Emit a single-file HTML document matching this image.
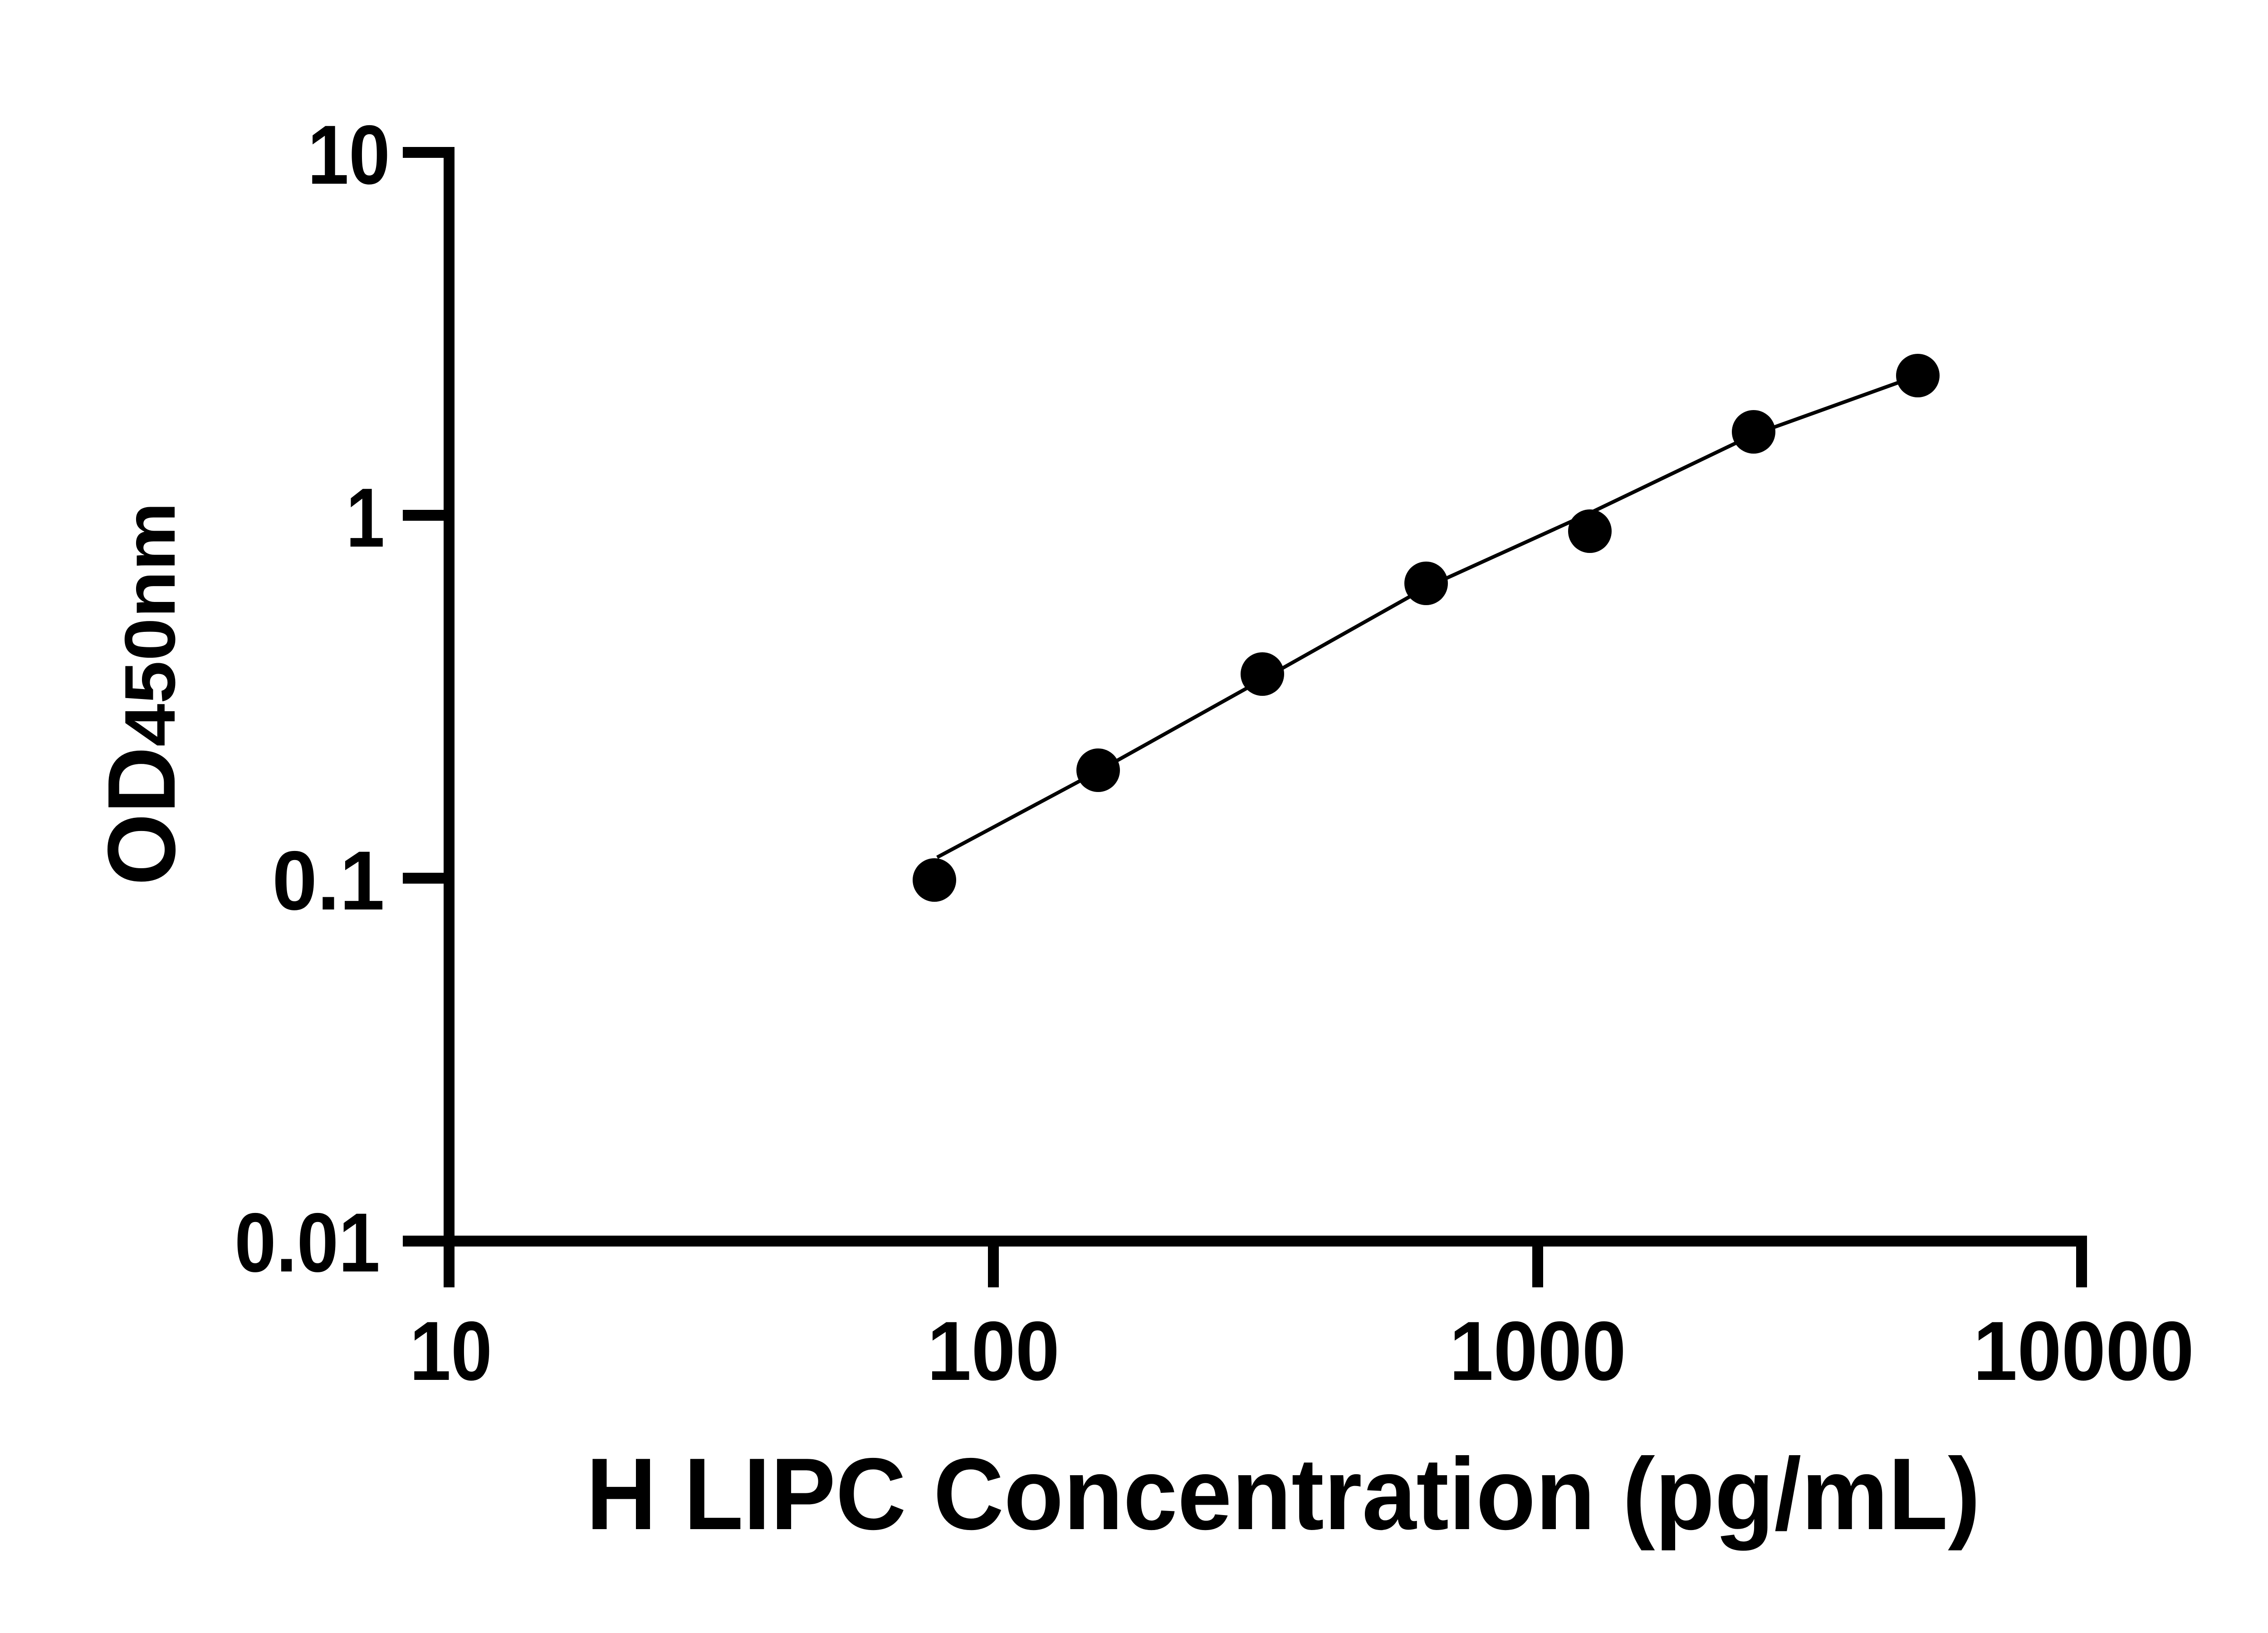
<!DOCTYPE html>
<html><head><meta charset="utf-8"><style>
html,body{margin:0;padding:0;background:#fff;}
svg{display:block;}
</style></head><body>
<svg width="5142" height="3600" viewBox="0 0 5142 3600" xmlns="http://www.w3.org/2000/svg">
<rect width="5142" height="3600" fill="#fff"/>
<g stroke="#000" stroke-width="24" fill="none" stroke-linecap="butt">
<line x1="990" y1="324" x2="990" y2="2838"/>
<line x1="978" y1="2736" x2="4601" y2="2736"/>
<line x1="888" y1="336" x2="1002" y2="336"/>
<line x1="888" y1="1136" x2="1002" y2="1136"/>
<line x1="888" y1="1936" x2="1002" y2="1936"/>
<line x1="888" y1="2736" x2="1002" y2="2736"/>
<line x1="2190" y1="2736" x2="2190" y2="2838"/>
<line x1="3390" y1="2736" x2="3390" y2="2838"/>
<line x1="4589" y1="2724" x2="4589" y2="2838"/>
</g>
<path d="M2066,1890 L2421,1700 L2783,1498 L3144,1295 L3505,1131 L3866,958 L4228,828" stroke="#000" stroke-width="8" fill="none" stroke-linejoin="round"/>
<g fill="#000">
<circle cx="2060" cy="1940" r="48"/>
<circle cx="2421" cy="1698" r="48"/>
<circle cx="2783" cy="1486" r="48"/>
<circle cx="3144" cy="1286" r="48"/>
<circle cx="3505" cy="1171" r="48"/>
<circle cx="3866" cy="952" r="48"/>
<circle cx="4228" cy="828" r="48"/>
</g>
<g font-family="Liberation Sans, Arial, sans-serif" font-weight="bold" font-size="185" fill="#000">
<text x="678" y="405" textLength="182" lengthAdjust="spacingAndGlyphs">10</text>
<text x="763" y="1205" textLength="85" lengthAdjust="spacingAndGlyphs">1</text>
<text x="600" y="2005" textLength="248" lengthAdjust="spacingAndGlyphs">0.1</text>
<text x="517" y="2803" textLength="321" lengthAdjust="spacingAndGlyphs">0.01</text>
<text x="903" y="3042" textLength="182" lengthAdjust="spacingAndGlyphs">10</text>
<text x="2044" y="3042" textLength="292" lengthAdjust="spacingAndGlyphs">100</text>
<text x="3195" y="3042" textLength="390" lengthAdjust="spacingAndGlyphs">1000</text>
<text x="4350" y="3042" textLength="487" lengthAdjust="spacingAndGlyphs">10000</text>
<text x="1292" y="3371" font-size="225" textLength="3074" lengthAdjust="spacingAndGlyphs">H LIPC Concentration (pg/mL)</text>
<g transform="translate(385,1952) rotate(-90)">
<text x="0" y="0" font-size="212" textLength="306" lengthAdjust="spacingAndGlyphs">OD</text>
<text x="306" y="0" font-size="158" textLength="539" lengthAdjust="spacingAndGlyphs">450nm</text>
</g>
</g>
</svg>
</body></html>
